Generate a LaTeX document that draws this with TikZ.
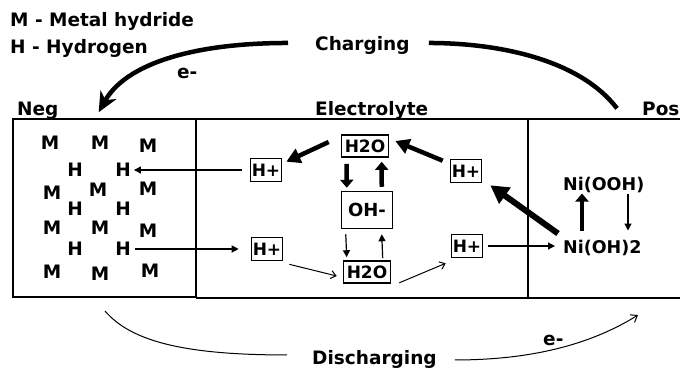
\documentclass[tikz,border=0pt]{standalone}
\usepackage{fontspec}
\setmainfont{DejaVu Sans}
\usetikzlibrary{arrows.meta,calc}
\begin{document}
\begin{tikzpicture}[x=1pt,y=-1pt,
  lbl/.style={inner sep=0pt,font=\fontsize{18.5}{20}\selectfont\bfseries},
  ni/.style={inner sep=0pt,font=\fontsize{17.5}{19}\selectfont\bfseries},
  ion/.style={draw,line width=1.6pt,inner sep=0pt,minimum width=31pt,minimum height=23pt,font=\fontsize{17}{19}\selectfont\bfseries},
  water/.style={ion,minimum width=47pt,minimum height=22pt},
  ohbox/.style={draw,line width=1.5pt,inner sep=0pt,minimum width=51pt,minimum height=37pt,font=\fontsize{18}{20}\selectfont\bfseries},
  frame/.style={line width=1.5pt},
  bigarr/.style={line width=4.5pt,-{Triangle[length=14pt,width=15pt]}},
  hugearr/.style={line width=6pt,-{Triangle[length=18pt,width=19pt]}},
  vthick/.style={line width=4.5pt,-{Triangle[length=8pt,width=13pt]}},
  thinarr/.style={line width=1.2pt,-{Triangle[length=7pt,width=7pt]}},
  openarr/.style={line width=1pt,-{Straight Barb[length=5pt,width=8pt]}},
  curvethick/.style={line width=4.5pt},
  curvethin/.style={line width=1pt}
]
\useasboundingbox (0,0) rectangle (680,372);

% frame
\draw[frame] (680,119) -- (13,119) -- (13,297) -- (196,297);
\draw[frame] (196,298) -- (680,298);
\draw[line width=2.5pt] (196,119) -- (196,298);
\draw[frame] (528,119) -- (528,298);

% labels
\node[lbl,anchor=base west] (leg1) at (10,27) {M - Metal hydride};
\node[lbl,anchor=base west] (leg2) at (10,53) {H - Hydrogen};
\node[lbl,anchor=base west] (chg) at (315,50) {Charging};
\node[lbl,anchor=base west] (e1) at (177,78) {e-};
\node[lbl,anchor=base west] (neg) at (17,115) {Neg};
\node[lbl,anchor=base west] (ele) at (315,115) {Electrolyte};
\node[lbl,anchor=base west] (pos) at (642,115) {Pos};
\node[lbl,anchor=base west] (dis) at (312,364) {Discharging};
\node[lbl,anchor=base west] (e2) at (543,345) {e-};

% metal hydride lattice
\node[lbl] (m11) at (50,143) {M};
\node[lbl] (m12) at (100,143) {M};
\node[lbl] (m13) at (148,146) {M};
\node[lbl] (h11) at (75,170) {H};
\node[lbl] (h12) at (123,170) {H};
\node[lbl] (m21) at (52,193) {M};
\node[lbl] (m22) at (98,190) {M};
\node[lbl] (m23) at (148,189) {M};
\node[lbl] (h21) at (75,209) {H};
\node[lbl] (h22) at (123,209) {H};
\node[lbl] (m31) at (52,228) {M};
\node[lbl] (m32) at (100,228) {M};
\node[lbl] (m33) at (148,231) {M};
\node[lbl] (h31) at (75,249) {H};
\node[lbl] (h32) at (123,249) {H};
\node[lbl] (m41) at (52,272) {M};
\node[lbl] (m42) at (100,274) {M};
\node[lbl] (m43) at (150,271) {M};

% electrolyte species
\node[ion] (hpl1) at (266,170) {H+};
\node[ion] (hpr1) at (466,171) {H+};
\node[ion] (hpl2) at (267,249) {H+};
\node[ion] (hpr2) at (467,246) {H+};
\node[water] (wt) at (365,146) {H2O};
\node[water] (wb) at (367,272) {H2O};
\node[ohbox] (oh) at (367,210) {OH-};

% positive electrode
\node[ni,anchor=base west] (niooh) at (563,190) {Ni(OOH)};
\node[ni,anchor=base west] (nioh) at (563,253) {Ni(OH)2};

% charging / discharging arcs
\draw[curvethick,-{Stealth[length=20pt,width=18pt,inset=6pt]}]
  ($(chg.west)+(-27,-2)$) .. controls (190,43) and (125,65) .. ($(neg.east)+(40,2)$);
\draw[curvethick] ($(chg.east)+(19,-2)$) .. controls (500,43) and (580,60) .. ($(pos.west)+(-25,0)$);
\coordinate (d0) at (105,311);
\coordinate (d1) at (638,315);
\draw[curvethin] (d0) .. controls (130,340) and (180,355) .. ($(dis.west)+(-25,-4)$);
\draw[curvethin,-{Straight Barb[length=6pt,width=9pt]}] ($(dis.east)+(18,1)$) .. controls (530,360) and (590,345) .. (d1);

% proton transfer to/from hydride
\draw[thinarr,shorten <=8pt,shorten >=3pt] (hpl1.west) -- (h12.east);
\draw[thinarr,shorten <=4pt,shorten >=12pt] (h32.east) -- (hpl2.west);

% charging cycle (thick)
\draw[hugearr] ($(nioh.north west)+(-5,-6)$) -- ($(hpr1.south east)+(8,2)$);
\draw[bigarr] ($(hpr1.north west)+(-7,2)$) -- ($(wt.east)+(6,-5)$);
\draw[bigarr] ($(wt.west)+(-12,-4)$) -- ($(hpl1.north east)+(4,4)$);
\draw[vthick] ($(wt.south west)+(6,6)$) -- ($(oh.north west)+(6,-3)$);
\draw[vthick] ($(oh.north west)+(41,-4)$) -- ($(wt.south west)+(41,4)$);
\draw[vthick] ($(nioh.north west)+(19,-9)$) -- ($(niooh.south west)+(19,1)$);

% discharging cycle (thin)
\draw[thinarr] ($(oh.south west)+(5,5)$) -- ($(wb.north west)+(4,-3)$);
\draw[thinarr] ($(wb.north west)+(40,-2)$) -- ($(oh.south west)+(41,5)$);
\draw[openarr] ($(hpl2.south east)+(6,3)$) -- ($(wb.west)+(-6,4)$);
\draw[openarr] ($(wb.south east)+(8,-1)$) -- ($(hpr2.south west)+(-5,5)$);
\draw[thinarr,shorten <=5pt,shorten >=8pt] (hpr2.east) -- (hpr2.east -| nioh.west);
\draw[thinarr] ($(niooh.south west)+(65,1)$) -- ($(nioh.north west)+(65,-9)$);
\end{tikzpicture}
\end{document}
